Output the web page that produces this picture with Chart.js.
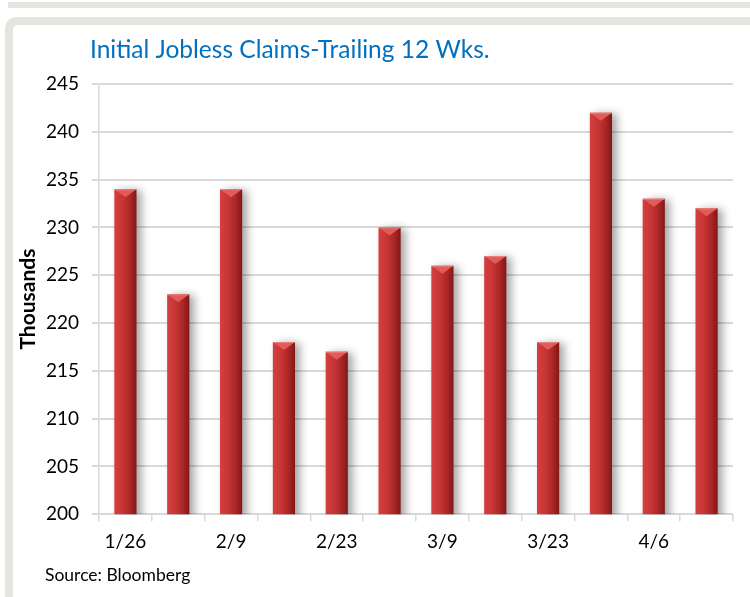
<!DOCTYPE html>
<html>
<head>
<meta charset="utf-8">
<script src="https://cdn.jsdelivr.net/npm/chart.js@4.4.1/dist/chart.umd.min.js"></script>
<style>
  html, body { margin: 0; padding: 0; background: #fff; }
  #wrap { width: 750px; height: 597px; }
</style>
</head>
<body>
<div id="wrap"><canvas id="myChart" width="750" height="597"></canvas></div>
<script>
// data
const weeks = ['1/26', '2/2', '2/9', '2/16', '2/23', '3/2', '3/9', '3/16', '3/23', '3/30', '4/6', '4/13'];
const claims = [234, 223, 234, 218, 217, 230, 226, 227, 218, 242, 233, 232];
const yTicks = [200, 205, 210, 215, 220, 225, 230, 235, 240, 245];

const chartTitle = 'Initial Jobless Claims-Trailing 12 Wks.';
const sourceNote = 'Source: Bloomberg';

const FONT = 'Lato, "Open Sans", sans-serif';
const GRID = '#d9d9d9';

let ctx = document.getElementById('myChart').getContext('2d');

// grey frame + title + source note
const frame = {
    id: 'frame',
    beforeDraw(chart) {
        const c = chart.ctx;
        c.save();
        c.fillStyle = '#e6e4df';
        c.fillRect(8, 2, 742, 6);
        // rounded top-left panel border
        c.beginPath();
        c.moveTo(750, 17);
        c.lineTo(18, 17);
        c.quadraticCurveTo(5, 17, 5, 30);
        c.lineTo(5, 597);
        c.lineTo(13, 597);
        c.lineTo(13, 30);
        c.quadraticCurveTo(13, 25, 18, 25);
        c.lineTo(750, 25);
        c.closePath();
        c.fill();
        c.restore();
    },
    afterDraw(chart) {
        const c = chart.ctx;
        c.save();
        c.textBaseline = 'middle';
        c.textAlign = 'left';
        c.fillStyle = '#0070c0';
        c.font = '24.5px ' + FONT;
        c.fillText(chartTitle, 90, 50);
        c.fillStyle = '#000';
        c.font = '17.5px ' + FONT;
        c.fillText(sourceNote, 45, 575);
        c.restore();
    }
};

// shadow under bars and bevelled tops
const barLook = {
    id: 'barLook',
    beforeDatasetDraw(chart) {
        const c = chart.ctx;
        c.save();
        c.shadowColor = 'rgba(0,0,0,0.35)';
        c.shadowBlur = 8;
        c.shadowOffsetX = 5;
        c.shadowOffsetY = 1;
    },
    afterDatasetDraw(chart, args) {
        const c = chart.ctx;
        c.restore();
        c.save();
        args.meta.data.forEach(bar => {
            const l = bar.x - bar.width / 2, r = bar.x + bar.width / 2, t = bar.y;
            c.fillStyle = '#e25a5a';
            c.beginPath();
            c.moveTo(l, t);
            c.lineTo(r, t);
            c.lineTo(bar.x, t + 8);
            c.closePath();
            c.fill();
            c.fillStyle = 'rgba(255,255,255,0.25)';
            c.fillRect(l, t, bar.width, 1);
        });
        c.restore();
    }
};

function barFill(context) {
    const chart = context.chart;
    if (!chart.chartArea) return '#c0302f';
    const x = chart.scales.x.getPixelForValue(context.dataIndex);
    const g = chart.ctx.createLinearGradient(x - 11, 0, x + 11, 0);
    g.addColorStop(0, '#d43e3e');
    g.addColorStop(0.35, '#c93636');
    g.addColorStop(0.7, '#ac2727');
    g.addColorStop(1, '#821818');
    return g;
}

let claimsChart = new Chart(ctx, {
    type: 'bar',
    data: {
        labels: weeks,
        datasets: [{
            label: 'Initial claims',
            data: claims,
            backgroundColor: barFill,
            borderWidth: 0,
            barPercentage: 0.42,
            categoryPercentage: 1
        }]
    },
    options: {
        responsive: false,
        animation: false,
        layout: { padding: { left: 16, right: 17, top: 84, bottom: 35 } },
        plugins: {
            legend: { display: false },
            tooltip: { enabled: false }
        },
        scales: {
            x: {
                grid: {
                    display: true,
                    drawOnChartArea: false,
                    color: GRID,
                    lineWidth: 1.5,
                    tickLength: 7,
                    offset: true
                },
                border: { display: false },
                ticks: {
                    autoSkip: false,
                    maxRotation: 0,
                    color: '#000',
                    font: { family: FONT, size: 19 },
                    padding: 9,
                    callback: (v, i) => (i % 2 === 0 ? weeks[i] : '')
                }
            },
            y: {
                min: 200,
                max: 245,
                afterBuildTicks: scale => { scale.ticks = yTicks.map(v => ({ value: v })); },
                afterFit: scale => { scale.width = 83; },
                grid: { color: GRID, lineWidth: 2, tickLength: 7 },
                border: { display: true, color: GRID, width: 1.5 },
                ticks: {
                    color: '#000',
                    font: { family: FONT, size: 19 },
                    padding: 13
                },
                title: {
                    display: true,
                    text: 'Thousands',
                    color: '#000',
                    font: { family: FONT, size: 21, weight: 'bold' },
                    padding: { top: 0, bottom: 0 }
                }
            }
        }
    },
    plugins: [frame, barLook]
});
</script>
</body>
</html>
